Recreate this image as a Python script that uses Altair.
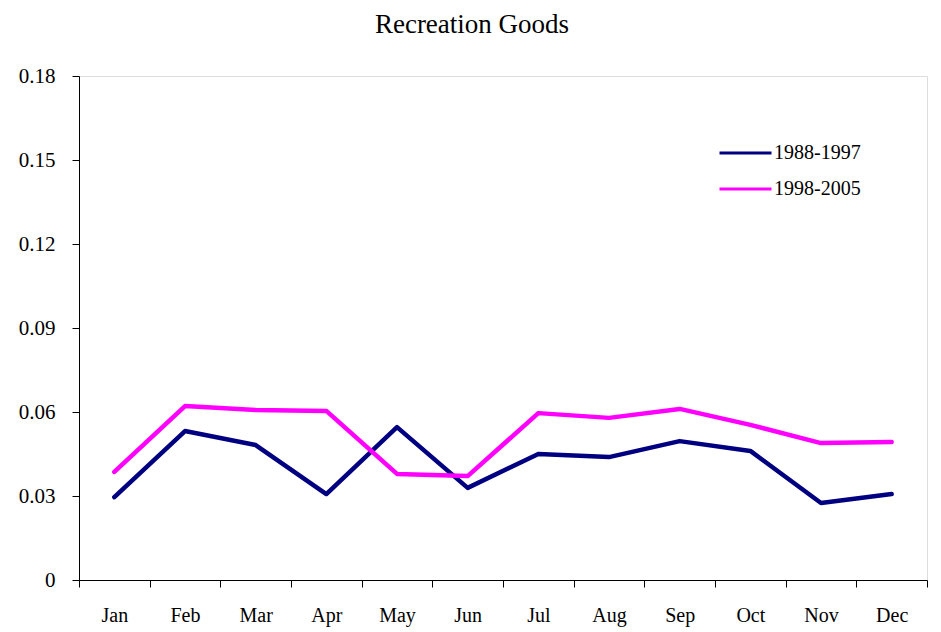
import altair as alt
import pandas as pd

months = ["Jan", "Feb", "Mar", "Apr", "May", "Jun", "Jul", "Aug", "Sep", "Oct", "Nov", "Dec"]
series_a = "1988-1997"
series_b = "1998-2005"
values_a = [0.0296, 0.0532, 0.0482, 0.0307, 0.0546, 0.0329, 0.0450, 0.0439, 0.0496, 0.0461, 0.0275, 0.0307]
values_b = [0.0386, 0.0621, 0.0607, 0.0604, 0.0379, 0.0371, 0.0596, 0.0579, 0.0611, 0.0554, 0.0489, 0.0493]
y_ticks = [0, 0.03, 0.06, 0.09, 0.12, 0.15, 0.18]

df = pd.DataFrame(
    [{"month": m, "series": series_a, "value": v} for m, v in zip(months, values_a)]
    + [{"month": m, "series": series_b, "value": v} for m, v in zip(months, values_b)]
)

FONT = "Liberation Serif"

chart = (
    alt.Chart(df)
    .mark_line(strokeWidth=4.5, strokeCap="round", strokeJoin="round")
    .encode(
        x=alt.X(
            "month:N",
            sort=months,
            scale=alt.Scale(type="band", paddingInner=0, paddingOuter=0),
            axis=alt.Axis(
                title=None,
                labelAngle=0,
                tickBand="extent",
                tickSize=7,
                tickColor="black",
                domainColor="black",
                labelPadding=18,
                labelFont=FONT,
                labelFontSize=20,
                labelColor="black",
            ),
        ),
        y=alt.Y(
            "value:Q",
            scale=alt.Scale(domain=[0, 0.18], nice=False),
            axis=alt.Axis(
                title=None,
                values=y_ticks,
                labelExpr="format(datum.value, '.2~f')",
                grid=False,
                tickSize=7,
                tickColor="black",
                domainColor="black",
                labelPadding=17,
                labelFont=FONT,
                labelFontSize=21,
                labelColor="black",
            ),
        ),
        color=alt.Color(
            "series:N",
            scale=alt.Scale(domain=[series_a, series_b], range=["#000080", "#FF00FF"]),
            legend=alt.Legend(
                title=None,
                orient="none",
                legendX=639,
                legendY=67,
                padding=0,
                symbolType="stroke",
                symbolSize=2704,
                symbolStrokeWidth=3,
                clipHeight=20,
                rowPadding=16,
                labelOffset=1,
                labelFont=FONT,
                labelFontSize=20,
                labelColor="black",
            ),
        ),
    )
    .properties(
        width=848,
        height=504,
        autosize=alt.AutoSizeParams(type="none"),
        padding={"left": 71, "top": 68, "right": 6, "bottom": 52},
        title=alt.TitleParams(
            "Recreation Goods",
            font=FONT,
            fontSize=27,
            fontWeight="normal",
            color="black",
            anchor="middle",
            dx=-31,
            offset=26,
        ),
    )
    .configure_view(stroke=None)
    .configure(background="white")
)

chart.save("out.html", embed_options={"renderer": "svg", "actions": False})
